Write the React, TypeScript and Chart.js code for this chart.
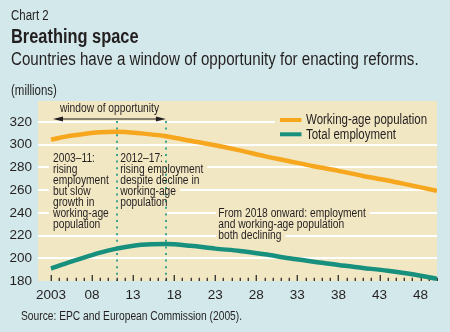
import React, { useEffect, useRef } from "react";
import { Chart, registerables } from "chart.js";

Chart.register(...registerables);

// ---- data ----
const years = [2003, 2005, 2007, 2009, 2011, 2014, 2017, 2020, 2023, 2026, 2029, 2032, 2035, 2038, 2041, 2044, 2047, 2050];
const workingAge = [304.5, 307.5, 309.5, 311, 311.5, 310, 307.5, 303.5, 299.5, 295, 290, 285.5, 281, 277, 272.5, 268.5, 264, 259.5];
const employment = [191, 196, 200.5, 205, 208.5, 212, 212.5, 211, 208.5, 206.5, 203.5, 200, 197, 194, 191.5, 189, 186, 182];
const seriesLabels = ["Working-age population", "Total employment"];
const xTickYears = [2003, 2008, 2013, 2018, 2023, 2028, 2033, 2038, 2043, 2048];
const yTickValues = [180, 200, 220, 240, 260, 280, 300, 320];
const windowStart = 2011;
const windowEnd = 2017;
const windowLabel = "window of opportunity";
const noteEarly = ["2003–11:", "rising", "employment", "but slow", "growth in", "working-age", "population"];
const noteMiddle = ["2012–17:", "rising employment", "despite decline in", "working-age", "population"];
const noteLate = ["From 2018 onward: employment", "and working-age population", "both declining"];

// ---- styles ----
const BG = "#d3e8ea";
const PLOT_BG = "#f2e7c3";
const ORANGE = "#f7a71e";
const TEAL = "#17907e";
const DOT_TEAL = "#3aa48e";
const TEXT = "#231f20";
const SANS = '"Liberation Sans", Arial, sans-serif';
const SQUEEZE = 0.82;

function narrowText(ctx: any, t: string, x: number, y: number, align: "left" | "center" = "left") {
  const w = ctx.measureText(t).width * SQUEEZE;
  const left = align === "center" ? x - w / 2 : x;
  ctx.save();
  ctx.translate(left, y);
  ctx.scale(SQUEEZE, 1);
  ctx.textAlign = "left";
  ctx.fillText(t, 0, 0);
  ctx.restore();
}

const decorPlugin = {
  id: "decor",
  beforeDraw(chart: any) {
    const { ctx, chartArea: a, width, height } = chart;
    ctx.save();
    ctx.fillStyle = BG;
    ctx.fillRect(0, 0, width, height);
    ctx.fillStyle = PLOT_BG;
    ctx.fillRect(a.left, a.top, a.right - a.left, a.bottom - a.top);
    ctx.restore();
  },
  beforeDatasetsDraw(chart: any) {
    const { ctx, chartArea: a } = chart;
    const xs = chart.scales.x;
    const ys = chart.scales.y;
    const px = (v: number) => xs.getPixelForValue(v);
    const py = (v: number) => ys.getPixelForValue(v);
    ctx.save();

    // annotation blocks
    const lh = 11;
    ctx.font = `12.5px ${SANS}`;
    const blocks = [
      { lines: noteEarly, x0: px(2003) + 2, maskLeft: px(2003) - 2, minRight: px(windowStart), extra: 0, y0: a.top + 58 },
      { lines: noteMiddle, x0: px(windowStart) + 3.5, maskLeft: px(windowStart), minRight: px(windowEnd) + 1, extra: 1, y0: a.top + 58 },
      { lines: noteLate, x0: px(2023) + 3, maskLeft: px(2023) + 1, minRight: 0, extra: 0, y0: a.top + 112.5 },
    ];
    ctx.fillStyle = PLOT_BG;
    for (const b of blocks) {
      const all = [...b.lines, ...Array(b.extra).fill("")];
      all.forEach((t, i) => {
        const cy = b.y0 + i * lh;
        const w = t ? ctx.measureText(t).width * SQUEEZE : 0;
        const right = Math.max(b.minRight, b.x0 + w + 4);
        ctx.fillRect(b.maskLeft, cy - lh / 2 - 0.5, right - b.maskLeft, lh + 1);
      });
    }
    // legend mask
    ctx.fillRect(a.right - 162, a.top + 11, 162, 30);

    // dotted verticals
    ctx.strokeStyle = DOT_TEAL;
    ctx.lineWidth = 2;
    ctx.setLineDash([2, 4.6]);
    for (const v of [windowStart, windowEnd]) {
      const x = Math.round(px(v));
      ctx.beginPath();
      ctx.moveTo(x, py(320) - 1);
      ctx.lineTo(x, a.bottom);
      ctx.stroke();
    }
    ctx.setLineDash([]);

    // note text
    ctx.fillStyle = TEXT;
    ctx.textBaseline = "middle";
    for (const b of blocks) {
      b.lines.forEach((t, i) => narrowText(ctx, t, b.x0, b.y0 + i * lh));
    }

    // window arrow
    const ax0 = px(2003) + 2;
    const ax1 = px(windowEnd);
    const ay = a.top + 18;
    ctx.strokeStyle = TEXT;
    ctx.lineWidth = 1;
    ctx.beginPath();
    ctx.moveTo(ax0 + 4, ay);
    ctx.lineTo(ax1 - 4, ay);
    ctx.stroke();
    ctx.beginPath();
    ctx.moveTo(ax0, ay);
    ctx.lineTo(ax0 + 10, ay - 2.6);
    ctx.lineTo(ax0 + 10, ay + 2.6);
    ctx.closePath();
    ctx.fill();
    ctx.beginPath();
    ctx.moveTo(ax1, ay);
    ctx.lineTo(ax1 - 10, ay - 2.6);
    ctx.lineTo(ax1 - 10, ay + 2.6);
    ctx.closePath();
    ctx.fill();
    narrowText(ctx, windowLabel, (ax0 + ax1) / 2, a.top + 7.5, "center");

    // legend
    const lx = a.right - 157;
    const colors = [ORANGE, TEAL];
    ctx.font = `14px ${SANS}`;
    seriesLabels.forEach((lab, i) => {
      const cy = a.top + 19 + i * 14.3;
      ctx.fillStyle = colors[i];
      ctx.fillRect(lx, cy - 2, 21.5, 4);
      ctx.fillStyle = TEXT;
      narrowText(ctx, lab, lx + 26, cy + 0.5);
    });

    // x tick marks (inside, from bottom)
    ctx.strokeStyle = "#3b3b3b";
    ctx.lineWidth = 1.4;
    for (let yr = 2003; yr <= 2050; yr++) {
      const major = xTickYears.includes(yr);
      const x = Math.round(px(yr)) + 0.3;
      ctx.beginPath();
      ctx.moveTo(x, a.bottom);
      ctx.lineTo(x, a.bottom - (major ? 6 : 3.2));
      ctx.stroke();
    }
    ctx.restore();
  },
};

export default function App() {
  const ref = useRef<HTMLCanvasElement | null>(null);

  useEffect(() => {
    if (!ref.current) return;
    const chart = new Chart(ref.current, {
      type: "line",
      data: {
        datasets: [
          {
            label: seriesLabels[0],
            data: years.map((y, i) => ({ x: y, y: workingAge[i] })),
            borderColor: ORANGE,
            borderWidth: 4.5,
            pointRadius: 0,
            cubicInterpolationMode: "monotone",
            borderCapStyle: "butt",
          },
          {
            label: seriesLabels[1],
            data: years.map((y, i) => ({ x: y, y: employment[i] })),
            borderColor: TEAL,
            borderWidth: 4.5,
            pointRadius: 0,
            cubicInterpolationMode: "monotone",
            borderCapStyle: "butt",
          },
        ],
      },
      options: {
        animation: false,
        responsive: false,
        devicePixelRatio: 1,
        layout: { padding: { top: 101, right: 13, bottom: 0, left: 0 } },
        plugins: { legend: { display: false }, tooltip: { enabled: false } },
        scales: {
          x: {
            type: "linear",
            min: 2001.42,
            max: 2050,
            afterBuildTicks: (s: any) => {
              s.ticks = xTickYears.map((v) => ({ value: v }));
            },
            afterFit: (s: any) => {
              s.height = 51;
            },
            grid: { display: false, drawTicks: false },
            border: { display: false },
            ticks: {
              autoSkip: false,
              maxRotation: 0,
              padding: 6,
              color: TEXT,
              font: { family: SANS, size: 13.5 },
              callback: (v: any) => (v === 2003 ? "2003" : String(v).slice(2)),
            },
          },
          y: {
            min: 180,
            max: 338.5,
            afterBuildTicks: (s: any) => {
              s.ticks = yTickValues.map((v) => ({ value: v }));
            },
            afterFit: (s: any) => {
              s.width = 38;
            },
            grid: {
              drawTicks: false,
              lineWidth: 2,
              color: (c: any) => (c.tick && c.tick.value === 180 ? "rgba(0,0,0,0)" : "#ffffff"),
            },
            border: { display: false },
            ticks: {
              padding: 6,
              color: TEXT,
              font: { family: SANS, size: 13.5 },
              callback: (v: any) => String(v),
            },
          },
        },
      },
      plugins: [decorPlugin],
    } as any);
    return () => chart.destroy();
  }, []);

  const txt = (extra: React.CSSProperties, squeeze = SQUEEZE): React.CSSProperties => ({
    position: "absolute",
    left: 11,
    whiteSpace: "nowrap",
    color: TEXT,
    fontFamily: SANS,
    lineHeight: 1,
    margin: 0,
    transform: `scaleX(${squeeze})`,
    transformOrigin: "0 0",
    ...extra,
  });

  return (
    <div style={{ position: "absolute", left: 0, top: 0, width: 450, height: 332, background: BG, overflow: "hidden" }}>
      <canvas ref={ref} width={450} height={332} style={{ position: "absolute", left: 0, top: 0, width: 450, height: 332 }} />
      <div style={txt({ top: 8, fontSize: 14 })}>Chart 2</div>
      <div style={txt({ top: 26, fontSize: 20, fontWeight: "bold" })}>Breathing space</div>
      <div style={txt({ top: 49.5, fontSize: 18 }, 0.84)}>Countries have a window of opportunity for enacting reforms.</div>
      <div style={txt({ top: 83, fontSize: 14 })}>(millions)</div>
      <div style={txt({ top: 310, left: 21, fontSize: 12.5 })}>Source: EPC and European Commission (2005).</div>
    </div>
  );
}
